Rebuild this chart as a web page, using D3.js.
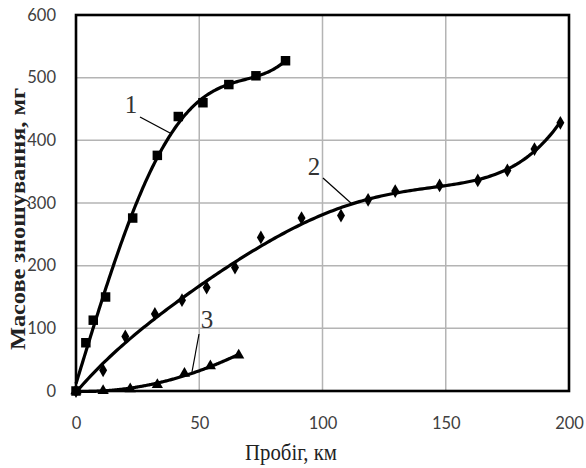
<!DOCTYPE html>
<html><head><meta charset="utf-8">
<script src="https://cdn.jsdelivr.net/npm/d3@7"></script>
<style>body{margin:0;background:#fff}</style></head>
<body><svg id="c" width="586" height="468"></svg>
<script>
// Data
const s1x = [0, 4, 7, 12, 23, 33, 41.5, 51.5, 62, 73, 85];
const s1y = [0, 77, 113, 150, 276, 376, 438, 460, 489, 503, 527];
const s2x = [0, 11, 20, 32, 43, 53, 64.5, 75, 91.5, 107.5, 118.5, 129.5, 147.5, 163, 175, 186, 196.5];
const s2y = [0, 33, 87, 123, 145, 165, 197, 245, 276, 280, 305, 319, 328, 336, 352, 386, 428];
const s3x = [0, 11, 22, 33, 44, 54.5, 66];
const s3y = [0, 0.5, 3, 10, 28, 40, 57];
const xTicks = [0, 50, 100, 150, 200];
const yTicks = [0, 100, 200, 300, 400, 500, 600];
const labels = ["1", "2", "3"];

const svg = d3.select("#c");
const L = 76, R = 569, T = 15, B = 391;
const x = d3.scaleLinear().domain([0, 200]).range([L, R]);
const y = d3.scaleLinear().domain([0, 600]).range([B, T]);

// grid
svg.append("g").selectAll("line").data(xTicks.slice(1, -1)).join("line")
  .attr("x1", d => x(d)).attr("x2", d => x(d)).attr("y1", T).attr("y2", B)
  .attr("stroke", "#b4b4b4").attr("stroke-width", 1.5);
svg.append("g").selectAll("line").data(yTicks.slice(1, -1)).join("line")
  .attr("y1", d => y(d)).attr("y2", d => y(d)).attr("x1", L).attr("x2", R)
  .attr("stroke", "#b4b4b4").attr("stroke-width", 1.5);

// axes (labels only)
const xa = svg.append("g").attr("transform", `translate(0,${B + 23})`)
  .call(d3.axisBottom(x).tickValues(xTicks).tickSize(0).tickFormat(d3.format("d")));
const ya = svg.append("g").attr("transform", `translate(${L - 17},0)`)
  .call(d3.axisLeft(y).tickValues(yTicks).tickSize(0).tickFormat(d3.format("d")));
[xa, ya].forEach(a => {
  a.select(".domain").remove();
  a.selectAll("text").attr("font-family", "Lato, 'Open Sans', sans-serif")
    .attr("font-size", 16.5).attr("fill", "#404040");
});

// polynomial least squares fit (trendline)
function polyfit(xs, ys, deg) {
  const sc = d3.max(xs);
  const n = deg + 1;
  const A = Array.from({length: n}, () => new Array(n + 1).fill(0));
  for (let k = 0; k < xs.length; k++) {
    const u = xs[k] / sc;
    for (let i = 0; i < n; i++) {
      for (let j = 0; j < n; j++) A[i][j] += Math.pow(u, i + j);
      A[i][n] += ys[k] * Math.pow(u, i);
    }
  }
  for (let i = 0; i < n; i++) {
    let p = i;
    for (let r = i + 1; r < n; r++) if (Math.abs(A[r][i]) > Math.abs(A[p][i])) p = r;
    [A[i], A[p]] = [A[p], A[i]];
    for (let r = 0; r < n; r++) {
      if (r === i) continue;
      const f = A[r][i] / A[i][i];
      for (let c = i; c <= n; c++) A[r][c] -= f * A[i][c];
    }
  }
  const c = A.map((row, i) => row[n] / row[i]);
  return t => c.reduce((s, ci, i) => s + ci * Math.pow(t / sc, i), 0);
}

const series = [
  {xs: s1x, ys: s1y, deg: 4, shape: d3.symbolSquare, size: 90},
  {xs: s2x, ys: s2y, deg: 5, shape: d3.symbolDiamond, size: 55},
  {xs: s3x, ys: s3y, deg: 2, shape: d3.symbolTriangle, size: 55}
];
const line = d3.line().x(d => x(d[0])).y(d => y(d[1]));
series.forEach(s => {
  const f = polyfit(s.xs, s.ys, s.deg);
  const mx = d3.max(s.xs);
  const pts = d3.range(0, 201).map(i => { const t = mx * i / 200; return [t, f(t)]; });
  svg.append("path").attr("d", line(pts)).attr("fill", "none")
    .attr("stroke", "#000").attr("stroke-width", 3.2);
  svg.append("g").selectAll("path").data(s.xs.map((v, i) => [v, s.ys[i]])).join("path")
    .attr("d", d3.symbol().type(s.shape).size(s.size))
    .attr("transform", d => `translate(${x(d[0])},${y(d[1])})`)
    .attr("fill", "#000");
});

// frame
svg.append("rect").attr("x", L).attr("y", T).attr("width", R - L).attr("height", B - T)
  .attr("fill", "none").attr("stroke", "#000").attr("stroke-width", 2.6);

// curve labels with leaders
const lab = [
  {t: labels[0], tx: 131, ty: 113, l: [140, 117, 170, 133]},
  {t: labels[1], tx: 314, ty: 175, l: [323, 178, 352, 204]},
  {t: labels[2], tx: 207, ty: 328, l: [199, 334, 192, 372]}
];
lab.forEach(d => {
  svg.append("text").attr("x", d.tx).attr("y", d.ty).attr("text-anchor", "middle")
    .attr("font-family", "'Liberation Serif', serif").attr("font-size", 25)
    .attr("fill", "#333").text(d.t);
  svg.append("line").attr("x1", d.l[0]).attr("y1", d.l[1]).attr("x2", d.l[2]).attr("y2", d.l[3])
    .attr("stroke", "#000").attr("stroke-width", 1.2);
});

// axis titles
svg.append("text").attr("x", 291).attr("y", 460).attr("text-anchor", "middle")
  .attr("font-family", "'Liberation Serif', serif").attr("font-size", 23)
  .attr("textLength", 92).attr("lengthAdjust", "spacingAndGlyphs")
  .attr("fill", "#222").text("Пробіг, км");
svg.append("text").attr("transform", "translate(25,219) rotate(-90)").attr("text-anchor", "middle")
  .attr("font-family", "'Liberation Serif', serif").attr("font-size", 21).attr("font-weight", "bold")
  .attr("textLength", 262).attr("lengthAdjust", "spacingAndGlyphs")
  .attr("fill", "#222").text("Масове зношування, мг");
</script></body></html>
